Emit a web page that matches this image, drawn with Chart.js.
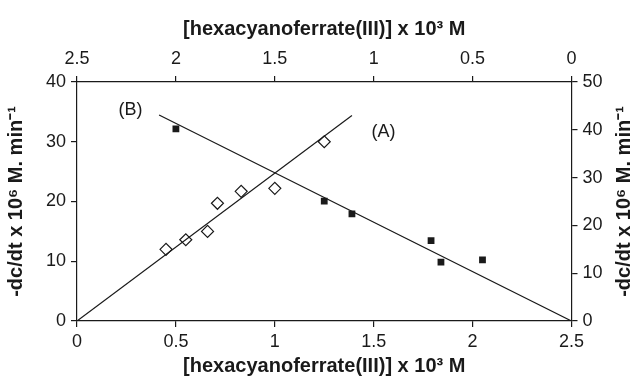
<!DOCTYPE html>
<html lang="en">
<head>
  <meta charset="UTF-8">
  <title>Hexacyanoferrate(III) rate plot</title>
  <style>
    html, body {
      margin: 0;
      padding: 0;
      background: #fff;
      overflow: hidden;
    }
  </style>
</head>
<body>
  <canvas id="rate-chart" width="632" height="378"></canvas>

  <script src="https://cdn.jsdelivr.net/npm/chart.js"></script>
  <script>
    // series (A): open diamonds, bottom x / left y
    const concA = [0.45, 0.55, 0.66, 0.71, 0.83, 1.0, 1.25];
    const rateA = [12.0, 13.6, 15.0, 19.7, 21.7, 22.2, 30.0];
    // fitted line (A)
    const fitAx = [0, 1.39];
    const fitAy = [0, 34.4];

    // series (B): filled squares, top x (reversed) / right y
    const concB = [2.0, 1.25, 1.11, 0.71, 0.66, 0.45];
    const rateB = [40.2, 25.1, 22.4, 16.8, 12.3, 12.8];
    // fitted line (B)
    const fitBx = [2.085, 0];
    const fitBy = [43.1, 0];

    // curve labels
    const curveLabels = ['(A)', '(B)'];
    const labelX = [1.55, 0.27];
    const labelY = [31.6, 35.3];

    const xTicks = [0, 0.5, 1, 1.5, 2, 2.5];
    const yLeftTicks = [0, 10, 20, 30, 40];
    const yRightTicks = [0, 10, 20, 30, 40, 50];

    const xTitle = '[hexacyanoferrate(III)] x 10³ M';
    const yTitle = '-dc/dt x 10⁶ M. min⁻¹';

    const FONT = 'Liberation Sans, Arial, sans-serif';
    const INK = '#1a1a1a';

    const pts = (xs, ys) => xs.map((x, i) => ({ x: x, y: ys[i] }));

    // curve labels + right-hand axis title (reads bottom to top, cut by the edge)
    const extraText = {
      id: 'extraText',
      afterDraw(chart) {
        const ctx = chart.ctx;
        const sx = chart.scales.x;
        const sy = chart.scales.y;
        const area = chart.chartArea;
        ctx.save();
        ctx.fillStyle = INK;
        ctx.font = '18px ' + FONT;
        ctx.textAlign = 'center';
        ctx.textBaseline = 'middle';
        curveLabels.forEach((t, i) => {
          ctx.fillText(t, sx.getPixelForValue(labelX[i]), sy.getPixelForValue(labelY[i]));
        });

        ctx.translate(chart.width - 18, (area.top + area.bottom) / 2);
        ctx.rotate(-Math.PI / 2);
        ctx.font = 'bold 20px ' + FONT;
        ctx.textBaseline = 'top';
        ctx.fillText(yTitle, 0, 0);
        ctx.restore();
      }
    };

    function axisGrid() {
      return {
        drawOnChartArea: false,
        drawTicks: true,
        tickLength: 6,
        tickColor: INK,
        lineWidth: 1.2
      };
    }

    const tickFmt = v => String(v);

    const ctx = document.getElementById('rate-chart').getContext('2d');
    new Chart(ctx, {
      type: 'scatter',
      data: {
        datasets: [
          {
            label: 'fit A',
            data: pts(fitAx, fitAy),
            showLine: true,
            borderColor: INK,
            borderWidth: 1.2,
            pointRadius: 0,
            xAxisID: 'x',
            yAxisID: 'y'
          },
          {
            label: 'fit B',
            data: pts(fitBx, fitBy),
            showLine: true,
            borderColor: INK,
            borderWidth: 1.2,
            pointRadius: 0,
            xAxisID: 'x2',
            yAxisID: 'y2'
          },
          {
            label: '(A)',
            data: pts(concA, rateA),
            pointStyle: 'rectRot',
            pointRadius: 6,
            pointBorderWidth: 1.2,
            pointBackgroundColor: '#fff',
            pointBorderColor: INK,
            xAxisID: 'x',
            yAxisID: 'y'
          },
          {
            label: '(B)',
            data: pts(concB, rateB),
            pointStyle: 'rect',
            pointRadius: 4.8,
            pointBorderWidth: 0,
            pointBackgroundColor: INK,
            pointBorderColor: INK,
            xAxisID: 'x2',
            yAxisID: 'y2'
          }
        ]
      },
      options: {
        responsive: false,
        animation: false,
        layout: { padding: 0 },
        plugins: {
          legend: { display: false },
          tooltip: { enabled: false }
        },
        scales: {
          x: {
            type: 'linear',
            position: 'bottom',
            min: 0,
            max: 2.5,
            afterBuildTicks: s => { s.ticks = xTicks.map(v => ({ value: v })); },
            afterFit: s => { s.height = 57; },
            grid: axisGrid(),
            border: { color: INK, width: 1.2 },
            ticks: { color: INK, font: { family: FONT, size: 18 }, padding: 4, maxRotation: 0, callback: tickFmt },
            title: {
              display: true,
              text: xTitle,
              color: INK,
              font: { family: FONT, size: 20, weight: 'bold' },
              padding: { top: 0, bottom: 0 }
            }
          },
          x2: {
            type: 'linear',
            position: 'top',
            min: 0,
            max: 2.5,
            reverse: true,
            afterBuildTicks: s => { s.ticks = xTicks.map(v => ({ value: v })); },
            afterFit: s => { s.height = 82; },
            grid: axisGrid(),
            border: { color: INK, width: 1.2 },
            ticks: { color: INK, font: { family: FONT, size: 18 }, padding: 6, maxRotation: 0, callback: tickFmt },
            title: {
              display: true,
              text: xTitle,
              color: INK,
              font: { family: FONT, size: 20, weight: 'bold' },
              padding: { top: 17, bottom: 0 }
            }
          },
          y: {
            type: 'linear',
            position: 'left',
            min: 0,
            max: 40,
            afterBuildTicks: s => { s.ticks = yLeftTicks.map(v => ({ value: v })); },
            afterFit: s => { s.width = 77; },
            grid: axisGrid(),
            border: { color: INK, width: 1.2 },
            ticks: { color: INK, font: { family: FONT, size: 18 }, padding: 5, callback: tickFmt },
            title: {
              display: true,
              text: yTitle,
              color: INK,
              font: { family: FONT, size: 20, weight: 'bold' },
              padding: { top: 4, bottom: 0 }
            }
          },
          y2: {
            type: 'linear',
            position: 'right',
            min: 0,
            max: 50,
            afterBuildTicks: s => { s.ticks = yRightTicks.map(v => ({ value: v })); },
            afterFit: s => { s.width = 60.5; },
            grid: axisGrid(),
            border: { color: INK, width: 1.2 },
            ticks: { color: INK, font: { family: FONT, size: 18 }, padding: 5, callback: tickFmt },
            title: { display: false }
          }
        }
      },
      plugins: [extraText]
    });
  </script>
</body>
</html>
